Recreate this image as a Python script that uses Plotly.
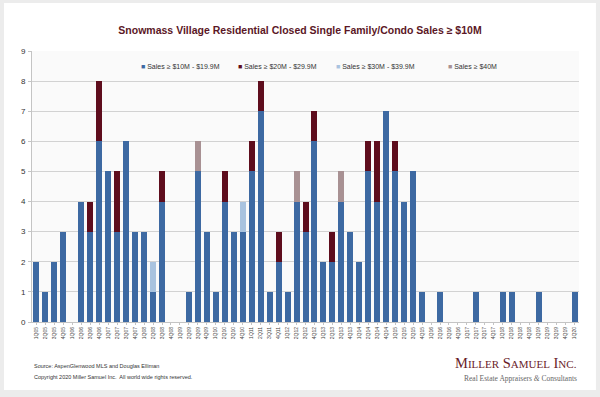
import plotly.graph_objects as go

quarters = [
    "1Q05", "2Q05", "3Q05", "4Q05", "1Q06", "2Q06", "3Q06", "4Q06",
    "1Q07", "2Q07", "3Q07", "4Q07", "1Q08", "2Q08", "3Q08", "4Q08",
    "1Q09", "2Q09", "3Q09", "4Q09", "1Q10", "2Q10", "3Q10", "4Q10",
    "1Q11", "2Q11", "3Q11", "4Q11", "1Q12", "2Q12", "3Q12", "4Q12",
    "1Q13", "2Q13", "3Q13", "4Q13", "1Q14", "2Q14", "3Q14", "4Q14",
    "1Q15", "2Q15", "3Q15", "4Q15", "1Q16", "2Q16", "3Q16", "4Q16",
    "1Q17", "2Q17", "3Q17", "4Q17", "1Q18", "2Q18", "3Q18", "4Q18",
    "1Q19", "2Q19", "3Q19", "4Q19", "1Q20",
]

sales_10_19 = [
    2, 1, 2, 3, 0, 4, 3, 6,
    5, 3, 6, 3, 3, 1, 4, 0,
    0, 1, 5, 3, 1, 4, 3, 3,
    5, 7, 1, 2, 1, 4, 3, 6,
    2, 2, 4, 3, 2, 5, 4, 7,
    5, 4, 5, 1, 0, 1, 0, 0,
    0, 1, 0, 0, 1, 1, 0, 0,
    1, 0, 0, 0, 1,
]
sales_20_29 = [
    0, 0, 0, 0, 0, 0, 1, 2,
    0, 2, 0, 0, 0, 0, 1, 0,
    0, 0, 0, 0, 0, 1, 0, 0,
    1, 1, 0, 1, 0, 0, 1, 1,
    0, 1, 0, 0, 0, 1, 2, 0,
    1, 0, 0, 0, 0, 0, 0, 0,
    0, 0, 0, 0, 0, 0, 0, 0,
    0, 0, 0, 0, 0,
]
sales_30_39 = [
    0, 0, 0, 0, 0, 0, 0, 0,
    0, 0, 0, 0, 0, 1, 0, 0,
    0, 0, 0, 0, 0, 0, 0, 1,
    0, 0, 0, 0, 0, 0, 0, 0,
    0, 0, 0, 0, 0, 0, 0, 0,
    0, 0, 0, 0, 0, 0, 0, 0,
    0, 0, 0, 0, 0, 0, 0, 0,
    0, 0, 0, 0, 0,
]
sales_40_plus = [
    0, 0, 0, 0, 0, 0, 0, 0,
    0, 0, 0, 0, 0, 0, 0, 0,
    0, 0, 1, 0, 0, 0, 0, 0,
    0, 0, 0, 0, 0, 1, 0, 0,
    0, 0, 1, 0, 0, 0, 0, 0,
    0, 0, 0, 0, 0, 0, 0, 0,
    0, 0, 0, 0, 0, 0, 0, 0,
    0, 0, 0, 0, 0,
]

series_names = ["Sales ≥ $10M - $19.9M", "Sales ≥ $20M - $29.9M",
                "Sales ≥ $30M - $39.9M", "Sales ≥ $40M"]
series_colors = ["#3d69a2", "#5e0d1d", "#a9c3df", "#a89193"]
series_values = [sales_10_19, sales_20_29, sales_30_39, sales_40_plus]

fig = go.Figure()
for name, color, vals in zip(series_names, series_colors, series_values):
    fig.add_trace(go.Bar(x=quarters, y=vals, name=name,
                         marker=dict(color=color, line=dict(width=0)),
                         showlegend=False))

# legend drawn as text entries (small square + label)
legend_x = [0.196, 0.373, 0.552, 0.756]
for name, color, lx in zip(series_names, series_colors, legend_x):
    fig.add_annotation(xref="paper", yref="paper", x=lx, y=0.944,
                       xanchor="left", yanchor="middle", showarrow=False,
                       text=f"<span style='color:{color}'>■</span> {name}",
                       font=dict(family="Liberation Sans, Arial", size=7, color="#333333"))

# card background and plot background
fig.add_shape(type="rect", xref="paper", yref="paper", x0=-0.0512, x1=1.031,
              y0=-0.251, y1=1.177, fillcolor="white", line=dict(width=0), layer="below")
fig.add_shape(type="rect", xref="paper", yref="paper", x0=0, x1=1, y0=0, y1=1,
              fillcolor="#fafafa", line=dict(width=0), layer="below")

fig.update_layout(
    width=600, height=397,
    margin=dict(l=32, r=21, t=51, b=75),
    paper_bgcolor="#ececec", plot_bgcolor="rgba(0,0,0,0)",
    barmode="stack", bargap=0.33,
    title=dict(text="<b>Snowmass Village Residential Closed Single Family/Condo Sales ≥ $10M</b>",
               x=0.5, xanchor="center", y=0.923, yanchor="middle",
               font=dict(family="Liberation Sans, Arial", size=10.5, color="#5b1726")),
    xaxis=dict(type="category", tickmode="array", tickvals=quarters, ticktext=quarters,
               tickangle=-90, tickfont=dict(family="Liberation Sans, Arial", size=5, color="#444444"),
               showline=True, linecolor="#c4c4c4", linewidth=1, ticks="outside",
               ticklen=2, tickcolor="#c4c4c4", showgrid=False, fixedrange=True),
    yaxis=dict(range=[0, 9], dtick=1, showgrid=True, gridcolor="#d2d2d2", gridwidth=1,
               showline=True, linecolor="#c4c4c4", linewidth=1, ticks="outside",
               ticklen=3, tickcolor="#c4c4c4", zeroline=False,
               tickfont=dict(family="Liberation Sans, Arial", size=8, color="#333333"),
               ticklabelstandoff=1),
)

fig.add_annotation(xref="paper", yref="paper", x=0.0, y=-0.161, xanchor="left", yanchor="middle",
                   showarrow=False, text="Source: AspenGlenwood MLS and Douglas Elliman",
                   font=dict(family="Liberation Sans, Arial", size=5.5, color="#333333"))
fig.add_annotation(xref="paper", yref="paper", x=0.0, y=-0.202, xanchor="left", yanchor="middle",
                   showarrow=False,
                   text="Copyright 2020 Miller Samuel Inc.  All world wide rights reserved.",
                   font=dict(family="Liberation Sans, Arial", size=5.5, color="#333333"))
fig.add_annotation(xref="paper", yref="paper", x=1.0, y=-0.153, xanchor="right", yanchor="middle",
                   showarrow=False,
                   text="M<span style='font-size:11px'>ILLER</span> S<span style='font-size:11px'>AMUEL</span> I<span style='font-size:11px'>NC.</span>",
                   font=dict(family="Liberation Serif, Times New Roman", size=14.5, color="#6a1c2a"))
fig.add_annotation(xref="paper", yref="paper", x=1.0, y=-0.209, xanchor="right", yanchor="middle",
                   showarrow=False,
                   text="Real Estate Appraisers <i>&</i> Consultants",
                   font=dict(family="Liberation Serif, Times New Roman", size=7.5, color="#666666"))

fig.write_html("out.html", config={"displayModeBar": False},
               post_script="document.body.style.margin='0';document.body.style.overflow='hidden';")
